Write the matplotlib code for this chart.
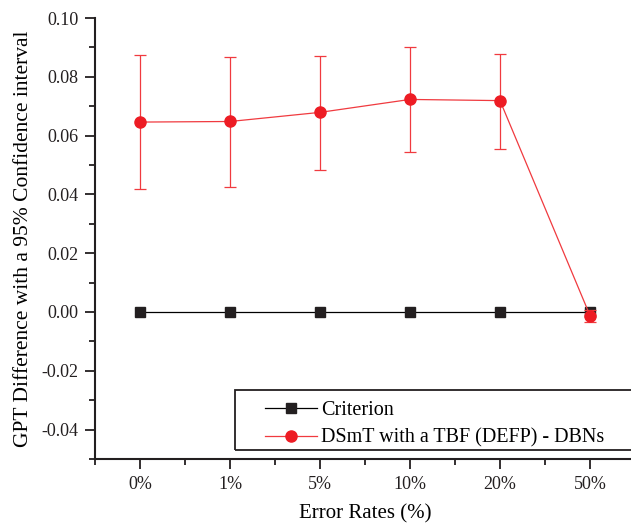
import numpy as np
import matplotlib
matplotlib.use("Agg")
import matplotlib.pyplot as plt
from matplotlib.lines import Line2D
from matplotlib.patches import Rectangle
from matplotlib.ticker import MultipleLocator, FormatStrFormatter

plt.rcParams['font.family'] = ['Liberation Serif', 'DejaVu Serif']

# data
rates = ["0%", "1%", "5%", "10%", "20%", "50%"]
criterion = [0.0, 0.0, 0.0, 0.0, 0.0, 0.0]
dsmt = [0.0646, 0.0648, 0.0679, 0.0723, 0.0719, -0.0012]
dsmt_upper = [0.0874, 0.0867, 0.0871, 0.0901, 0.0879, 0.0007]
dsmt_lower = [0.0418, 0.0425, 0.0484, 0.0543, 0.0553, -0.0034]

x = np.arange(len(rates))
err = [np.array(dsmt) - np.array(dsmt_lower), np.array(dsmt_upper) - np.array(dsmt)]

fig = plt.figure(figsize=(6.31, 5.25), dpi=100)
ax = fig.add_axes([95/631, 66/525, 540/631, 441/525])

ax.plot(x, criterion, color="black", lw=0.9, marker="s", ms=7,
        markerfacecolor="#231f20", markeredgecolor="#231f20", zorder=3)
ax.errorbar(x, dsmt, yerr=err, color="#f03a3f", lw=0.9, elinewidth=0.9, capsize=4,
            capthick=0.9, marker="o", ms=8, markerfacecolor="#ed1c24",
            markeredgecolor="#ed1c24", zorder=4)

ax.set_xlim(-0.5, 5.5)
ax.set_ylim(-0.05, 0.10)
ax.set_xticks(x)
ax.set_xticklabels(rates)
ax.xaxis.set_minor_locator(MultipleLocator(0.5))
ax.yaxis.set_major_locator(MultipleLocator(0.02))
ax.yaxis.set_minor_locator(MultipleLocator(0.01))
ax.yaxis.set_major_formatter(FormatStrFormatter("%.2f"))

for s in ["top", "right"]:
    ax.spines[s].set_visible(False)
for s in ["left", "bottom"]:
    ax.spines[s].set_linewidth(1.5)
    ax.spines[s].set_color("#231f20")
ax.tick_params(which="major", length=7, width=1.3, labelsize=13, colors="#231f20", pad=5)
ax.tick_params(which="minor", length=4, width=1.3, colors="#231f20")

ax.set_xlabel("Error Rates (%)", fontsize=15, labelpad=8)
ax.set_ylabel("GPT Difference with a 95% Confidence interval", fontsize=15.5, labelpad=6)

# legend box runs off the right edge, as in the original figure
ax.add_patch(Rectangle((0.259, 0.0204), 0.8, 0.136, transform=ax.transAxes,
                       fill=False, edgecolor="#231f20", lw=1.3, clip_on=False, zorder=5))
handles = [
    Line2D([], [], color="black", lw=0.9, marker="s", ms=7,
           markerfacecolor="#231f20", markeredgecolor="#231f20"),
    Line2D([], [], color="#f03a3f", lw=0.9, marker="o", ms=8,
           markerfacecolor="#ed1c24", markeredgecolor="#ed1c24"),
]
ax.legend(handles, ["Criterion", "DSmT with a TBF (DEFP) - DBNs"],
          loc="center left", bbox_to_anchor=(0.315, 0.078), fontsize=14.5,
          handlelength=2.6, frameon=False, borderpad=0,
          labelspacing=0.4, borderaxespad=0, handletextpad=0.2)

fig.savefig("out.png", dpi=100)
